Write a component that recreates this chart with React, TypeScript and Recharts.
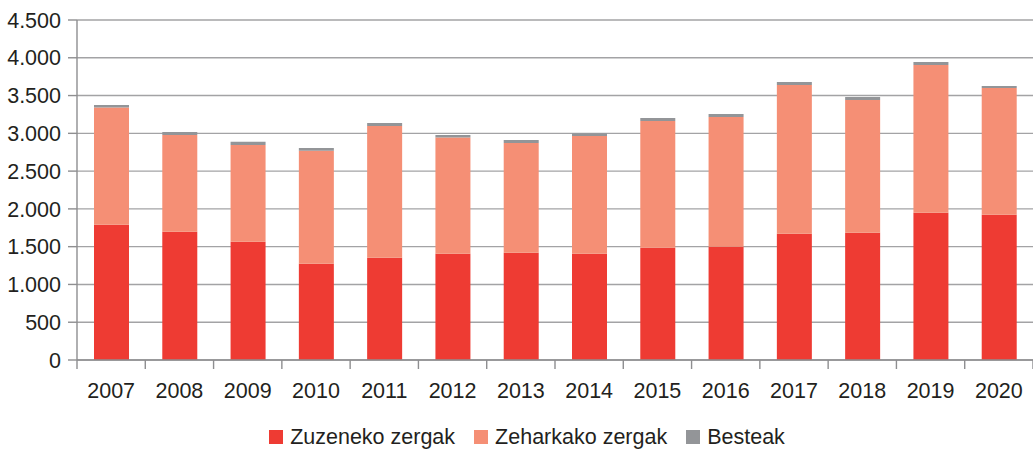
import React from "react";
import { BarChart, Bar, XAxis, YAxis, CartesianGrid, Legend } from "recharts";

const years = ["2007", "2008", "2009", "2010", "2011", "2012", "2013", "2014", "2015", "2016", "2017", "2018", "2019", "2020"];
const direct = [1790, 1697, 1565, 1274, 1353, 1406, 1419, 1406, 1485, 1498, 1670, 1683, 1948, 1921];
const indirect = [1551, 1282, 1282, 1494, 1745, 1538, 1454, 1560, 1679, 1719, 1970, 1759, 1957, 1679];
const others = [35, 40, 40, 39, 40, 35, 40, 35, 40, 40, 40, 40, 39, 27];
const yTicks = [0, 500, 1000, 1500, 2000, 2500, 3000, 3500, 4000, 4500];
const edgeTicks = years.map((_, i) => i).concat(years.length);

const seriesNames = ["Zuzeneko zergak", "Zeharkako zergak", "Besteak"];
const colors = ["#ee3b33", "#f58f75", "#939598"];

const data = years.map((y, i) => ({
  year: y,
  pos: i + 0.5,
  direct: direct[i],
  indirect: indirect[i],
  others: others[i],
}));

const font = "'Liberation Sans', Arial, sans-serif";
const fontSize = 21.5;
const textColor = "#231f20";
const lineColor = "#8e8e90";

// thousands with a dot, as in the source
const fmt = (v: number) => String(v).replace(/\B(?=(\d{3})+(?!\d))/g, ".");

const LegendRow = () => (
  <div style={{ display: "flex", justifyContent: "center", alignItems: "center", paddingLeft: 21, paddingTop: 5, fontFamily: font, fontSize, lineHeight: "24px", color: textColor }}>
    {seriesNames.map((n, i) => (
      <div key={n} style={{ display: "flex", alignItems: "center", marginRight: i < 2 ? 19 : 0 }}>
        <span style={{ width: 14, height: 14, background: colors[i], display: "inline-block", marginRight: 7 }} />
        <span>{n}</span>
      </div>
    ))}
  </div>
);

export default function App() {
  return (
    <div style={{ width: 1033, height: 450, position: "relative" }}>
      <style>{`body{margin:0;background:#fff}`}</style>
      <BarChart width={1033} height={450} data={data} margin={{ top: 20, right: 0, left: 0, bottom: 20 }}>
        <CartesianGrid xAxisId="b" vertical={false} stroke="#a3a3a5" strokeWidth={1.4} />
        <XAxis
          xAxisId="b"
          dataKey="year"
          height={31}
          tickSize={0}
          tickMargin={14}
          axisLine={false}
          tickLine={false}
          interval={0}
          tick={{ fill: textColor, fontSize, fontFamily: font }}
        />
        {/* boundary ticks sit between the bars, so a numeric axis draws them */}
        <XAxis
          xAxisId="a"
          type="number"
          dataKey="pos"
          domain={[0, years.length]}
          ticks={edgeTicks}
          tickFormatter={() => ""}
          tickSize={9}
          height={9}
          axisLine={{ stroke: lineColor, strokeWidth: 1.4 }}
          tickLine={{ stroke: lineColor, strokeWidth: 1.4 }}
        />
        <YAxis
          width={77}
          domain={[0, 4500]}
          ticks={yTicks}
          tickFormatter={fmt}
          tickSize={9}
          tickMargin={7}
          axisLine={{ stroke: lineColor, strokeWidth: 1.4 }}
          tickLine={{ stroke: lineColor, strokeWidth: 1.4 }}
          tick={{ fill: textColor, fontSize, fontFamily: font }}
        />
        <Legend verticalAlign="bottom" height={30} content={<LegendRow />} wrapperStyle={{ bottom: 0, left: 0, width: 1033 }} />
        <Bar xAxisId="b" dataKey="direct" name={seriesNames[0]} stackId="s" fill={colors[0]} barSize={35} isAnimationActive={false} />
        <Bar xAxisId="b" dataKey="indirect" name={seriesNames[1]} stackId="s" fill={colors[1]} barSize={35} isAnimationActive={false} />
        <Bar xAxisId="b" dataKey="others" name={seriesNames[2]} stackId="s" fill={colors[2]} barSize={35} isAnimationActive={false} />
      </BarChart>
    </div>
  );
}
